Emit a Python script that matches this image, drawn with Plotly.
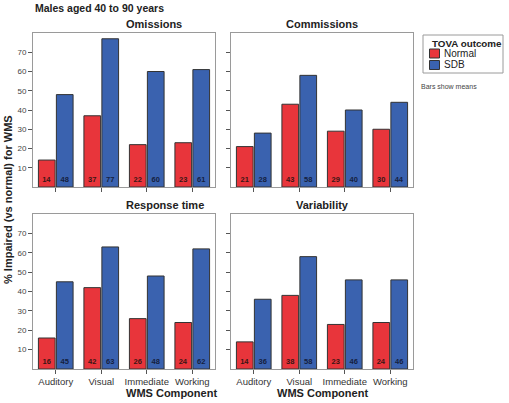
import plotly.graph_objects as go

categories = ["Auditory", "Visual", "Immediate", "Working"]
panels = ["Omissions", "Commissions", "Response time", "Variability"]
normal_vals = {
    "Omissions": [14, 37, 22, 23],
    "Commissions": [21, 43, 29, 30],
    "Response time": [16, 42, 26, 24],
    "Variability": [14, 38, 23, 24],
}
sdb_vals = {
    "Omissions": [48, 77, 60, 61],
    "Commissions": [28, 58, 40, 44],
    "Response time": [45, 63, 48, 62],
    "Variability": [36, 58, 46, 46],
}
y_ticks = [10, 20, 30, 40, 50, 60, 70]
series_names = ["Normal", "SDB"]

W, H = 509, 403
FONT = "Liberation Sans, Arial, sans-serif"
RED = "#E8353B"
BLUE = "#3A62AF"
COLORS = [RED, BLUE]


def px(x):
    return x / W


def py(y):
    return 1 - y / H


fig = go.Figure()

# pixel frames: (x0, x1, ytop, ybottom)
frames = [(33, 215, 33, 187), (231, 413, 33, 187),
          (33, 215, 214, 369), (231, 413, 214, 369)]

for i, (name, fr) in enumerate(zip(panels, frames)):
    n = "" if i == 0 else str(i + 1)
    xa, ya = "x" + n, "y" + n
    for series, vals, col, tcol in [(series_names[0], normal_vals[name], RED, "#3a1515"),
                                    (series_names[1], sdb_vals[name], BLUE, "#15203d")]:
        fig.add_trace(go.Bar(
            x=categories, y=vals, name=series, xaxis=xa, yaxis=ya,
            marker=dict(color=col, line=dict(color="#333333", width=1)),
            text=["<b>%d</b>" % v for v in vals], textposition="inside",
            insidetextanchor="start", textangle=0,
            textfont=dict(size=7.5, color=tcol, family=FONT),
            showlegend=False, hoverinfo="skip",
        ))
    x0, x1, yt, yb = fr
    bottom = i >= 2
    left = i % 2 == 0
    fig.layout["xaxis" + n] = dict(
        domain=[px(x0), px(x1)], anchor=ya, showline=True, mirror=True,
        linecolor="#9a9a9a", linewidth=1, ticks="outside", ticklen=4,
        tickcolor="#555", showticklabels=bottom, showgrid=False,
        tickfont=dict(size=9.5, color="#333", family=FONT),
    )
    fig.layout["yaxis" + n] = dict(
        domain=[py(yb), py(yt)], anchor=xa, range=[0, 80],
        showline=True, mirror=True, linecolor="#9a9a9a", linewidth=1,
        ticks="outside", ticklen=4, tickcolor="#555",
        tickvals=y_ticks, showticklabels=left, showgrid=False, zeroline=False,
        tickfont=dict(size=8, color="#444", family=FONT),
    )
    fig.add_annotation(text="<b>%s</b>" % name, x=px((x0 + x1) / 2),
                       y=py(yt - 9), xref="paper", yref="paper",
                       showarrow=False, yanchor="middle",
                       font=dict(size=11, color="#222", family=FONT))
    if bottom:
        fig.add_annotation(text="<b>WMS Component</b>", x=px((x0 + x1) / 2),
                           y=py(393), xref="paper", yref="paper",
                           showarrow=False, yanchor="middle",
                           font=dict(size=11, color="#222", family=FONT))

fig.add_annotation(text="<b>Males aged 40 to 90 years</b>", x=px(33), y=py(8),
                   xref="paper", yref="paper", showarrow=False,
                   xanchor="left", yanchor="middle",
                   font=dict(size=10.5, color="#222", family=FONT))
fig.add_annotation(text="<b>% Impaired (vs normal) for WMS</b>", x=px(8),
                   y=py(200), xref="paper", yref="paper", showarrow=False,
                   textangle=-90, xanchor="center", yanchor="middle",
                   font=dict(size=11, color="#222", family=FONT))
fig.add_annotation(text="Bars show means", x=px(419), y=py(86.5),
                   xref="paper", yref="paper", showarrow=False,
                   xanchor="left", yanchor="middle",
                   font=dict(size=7, color="#444", family=FONT))

# custom legend
fig.add_shape(type="rect", xref="paper", yref="paper",
              x0=px(423), x1=px(503), y0=py(73), y1=py(35),
              line=dict(color="#9a9a9a", width=1), fillcolor="white")
fig.add_annotation(text="<b>TOVA outcome</b>", x=px(429.5), y=py(43.5),
                   xref="paper", yref="paper", showarrow=False,
                   xanchor="left", yanchor="middle",
                   font=dict(size=9.8, color="#222", family=FONT))
for k, (nm, col) in enumerate(zip(series_names, COLORS)):
    ytop = 49 + k * 11.5
    fig.add_shape(type="rect", xref="paper", yref="paper",
                  x0=px(429.5), x1=px(439.5), y0=py(ytop + 9), y1=py(ytop),
                  line=dict(color="#333", width=1), fillcolor=col)
    fig.add_annotation(text=nm, x=px(441.5), y=py(ytop + 4.5),
                       xref="paper", yref="paper", showarrow=False,
                       xanchor="left", yanchor="middle",
                       font=dict(size=10, color="#222", family=FONT))

fig.update_layout(
    width=W, height=H, margin=dict(l=0, r=0, t=0, b=0),
    paper_bgcolor="white", plot_bgcolor="white",
    barmode="group", bargap=0.21, bargroupgap=0.07,
    font=dict(family=FONT), showlegend=False,
)

fig.write_html("out.html", config={"displayModeBar": False},
               post_script="document.body.style.margin='0';document.body.style.overflow='hidden';")
